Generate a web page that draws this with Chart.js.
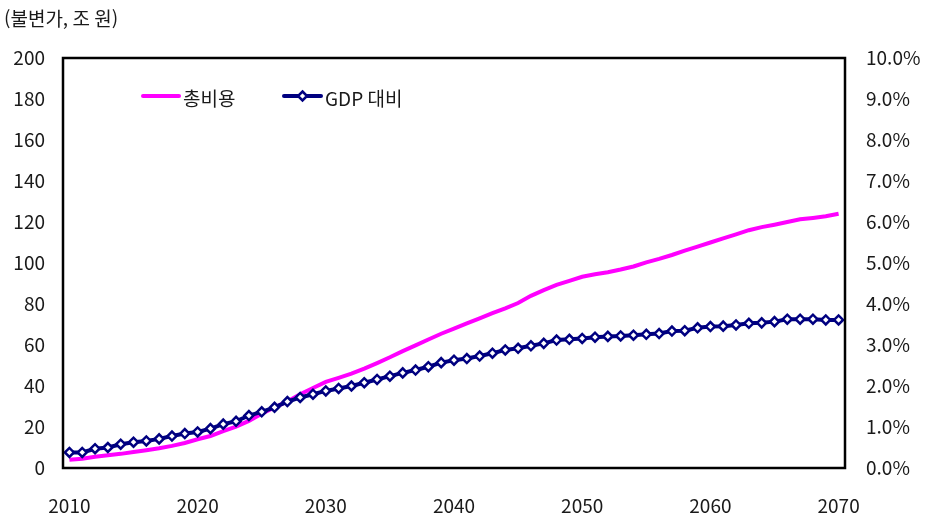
<!DOCTYPE html>
<html lang="ko">
<head>
<meta charset="utf-8">
<title>총비용 및 GDP 대비 비율</title>
<script src="https://cdn.jsdelivr.net/npm/chart.js@4/dist/chart.umd.min.js"></script>
<style>
  html, body { margin: 0; padding: 0; background: #ffffff; }
  #wrap { width: 925px; height: 521px; }
</style>
</head>
<body>
<div id="wrap"><canvas id="chart" width="925" height="521"></canvas></div>
<script>
// Years 2010–2070
const years = [];
for (let y = 2010; y <= 2070; y++) years.push(String(y));

// 총비용 (불변가, 조 원) — left axis
const totalCost = [
  4.0, 4.5, 5.5, 6.2, 6.9, 7.8, 8.7, 9.6, 10.8, 12.2,
  14.0, 15.6, 18.0, 20.2, 23.0, 26.5, 29.5, 32.5, 36.0, 39.0,
  42.0, 44.0, 46.0, 48.5, 51.2, 54.0, 57.0, 59.8, 62.7, 65.5,
  68.0, 70.5, 73.0, 75.5, 77.9, 80.5, 84.0, 86.8, 89.3, 91.3,
  93.3, 94.5, 95.5, 96.8, 98.3, 100.3, 102.0, 103.9, 106.0, 108.0,
  110.0, 112.0, 114.0, 116.0, 117.5, 118.7, 120.0, 121.3, 122.0, 122.8,
  124.0
];

// GDP 대비 (%) — right axis
const gdpShare = [
  0.38, 0.38, 0.47, 0.50, 0.58, 0.63, 0.66, 0.71, 0.78, 0.84,
  0.88, 0.96, 1.07, 1.14, 1.28, 1.37, 1.48, 1.62, 1.72, 1.80,
  1.88, 1.94, 2.00, 2.08, 2.16, 2.24, 2.32, 2.39, 2.47, 2.57,
  2.63, 2.67, 2.73, 2.80, 2.88, 2.92, 2.98, 3.04, 3.12, 3.14,
  3.16, 3.19, 3.21, 3.22, 3.24, 3.26, 3.28, 3.34, 3.35, 3.42,
  3.45, 3.46, 3.49, 3.53, 3.54, 3.57, 3.63, 3.63, 3.63, 3.61,
  3.61
];

const seriesNames = ['총비용', 'GDP 대비'];
const unitLabel = '(불변가, 조 원)';

const FONT = '"Noto Sans CJK KR", "Noto Sans", sans-serif';
const TEXT_COLOR = '#1a1a1a';
const PINK = '#ff00ff';
const NAVY = '#000080';

// Unit caption above the left axis
const unitCaption = {
  id: 'unitCaption',
  afterDraw(chart) {
    const ctx = chart.ctx;
    ctx.save();
    ctx.font = '19px ' + FONT;
    ctx.fillStyle = TEXT_COLOR;
    ctx.textAlign = 'left';
    ctx.textBaseline = 'middle';
    ctx.fillText(unitLabel, 4, 19);
    ctx.restore();
  }
};

// Black frame around the plot area
const plotFrame = {
  id: 'plotFrame',
  afterDatasetsDraw(chart) {
    const a = chart.chartArea;
    const ctx = chart.ctx;
    ctx.save();
    ctx.strokeStyle = '#000000';
    ctx.lineWidth = 2.5;
    ctx.strokeRect(a.left, a.top, a.right - a.left, a.bottom - a.top);
    ctx.restore();
  }
};

// Legend drawn inside the plot area
const innerLegend = {
  id: 'innerLegend',
  afterDraw(chart) {
    const ctx = chart.ctx;
    const ds = chart.data.datasets;
    const items = [
      { x0: 143, x1: 179, tx: 183 },
      { x0: 284, x1: 321, tx: 325 }
    ];
    const y = 96;
    ctx.save();
    items.forEach((it, i) => {
      const d = ds[i];
      ctx.strokeStyle = d.borderColor;
      ctx.lineWidth = 4;
      ctx.lineCap = 'round';
      ctx.beginPath();
      ctx.moveTo(it.x0, y);
      ctx.lineTo(it.x1, y);
      ctx.stroke();
      if (d.pointRadius > 0) {
        // diamond marker in the middle of the sample line
        const r = d.pointRadius;
        const cx = (it.x0 + it.x1) / 2;
        ctx.fillStyle = d.pointBackgroundColor;
        ctx.strokeStyle = d.pointBorderColor;
        ctx.lineWidth = d.pointBorderWidth;
        ctx.beginPath();
        ctx.moveTo(cx, y - r);
        ctx.lineTo(cx + r, y);
        ctx.lineTo(cx, y + r);
        ctx.lineTo(cx - r, y);
        ctx.closePath();
        ctx.fill();
        ctx.stroke();
      }
      ctx.font = '19px ' + FONT;
      ctx.fillStyle = TEXT_COLOR;
      ctx.textAlign = 'left';
      ctx.textBaseline = 'middle';
      ctx.fillText(d.label, it.tx, y + 3);
    });
    ctx.restore();
  }
};

new Chart(document.getElementById('chart'), {
  type: 'line',
  data: {
    labels: years,
    datasets: [
      {
        label: seriesNames[0],
        data: totalCost,
        yAxisID: 'y',
        borderColor: PINK,
        backgroundColor: PINK,
        borderWidth: 4,
        pointRadius: 0,
        tension: 0,
        order: 2
      },
      {
        label: seriesNames[1],
        data: gdpShare,
        yAxisID: 'y1',
        borderColor: NAVY,
        backgroundColor: NAVY,
        borderWidth: 4,
        pointStyle: 'rectRot',
        pointRadius: 4.5,
        pointBorderWidth: 2.5,
        pointBackgroundColor: '#ffffff',
        pointBorderColor: NAVY,
        tension: 0,
        order: 1
      }
    ]
  },
  options: {
    responsive: false,
    animation: false,
    devicePixelRatio: 1,
    layout: { padding: { top: 58, left: 0, right: 0, bottom: 0 } },
    plugins: {
      legend: { display: false },
      title: { display: false },
      tooltip: { enabled: false }
    },
    scales: {
      x: {
        type: 'category',
        offset: true,
        grid: { display: false, drawTicks: false },
        border: { display: false },
        ticks: {
          autoSkip: false,
          maxRotation: 0,
          minRotation: 0,
          padding: 26,
          color: TEXT_COLOR,
          font: { family: FONT, size: 19 },
          callback: function (value) {
            const yr = Number(this.getLabelForValue(value));
            return yr % 10 === 0 ? String(yr) : '';
          }
        },
        afterFit(scale) { scale.height = 53; }
      },
      y: {
        position: 'left',
        min: 0,
        max: 200,
        grid: { display: false, drawTicks: false },
        border: { display: false },
        ticks: {
          stepSize: 20,
          padding: 18,
          color: TEXT_COLOR,
          font: { family: FONT, size: 19 }
        },
        afterFit(scale) { scale.width = 63; }
      },
      y1: {
        position: 'right',
        min: 0,
        max: 10,
        grid: { display: false, drawTicks: false },
        border: { display: false },
        ticks: {
          stepSize: 1,
          padding: 21,
          color: TEXT_COLOR,
          font: { family: FONT, size: 19 },
          callback: (v) => Number(v).toFixed(1) + '%'
        },
        afterFit(scale) { scale.width = 80; }
      }
    }
  },
  plugins: [unitCaption, plotFrame, innerLegend]
});
</script>
</body>
</html>
